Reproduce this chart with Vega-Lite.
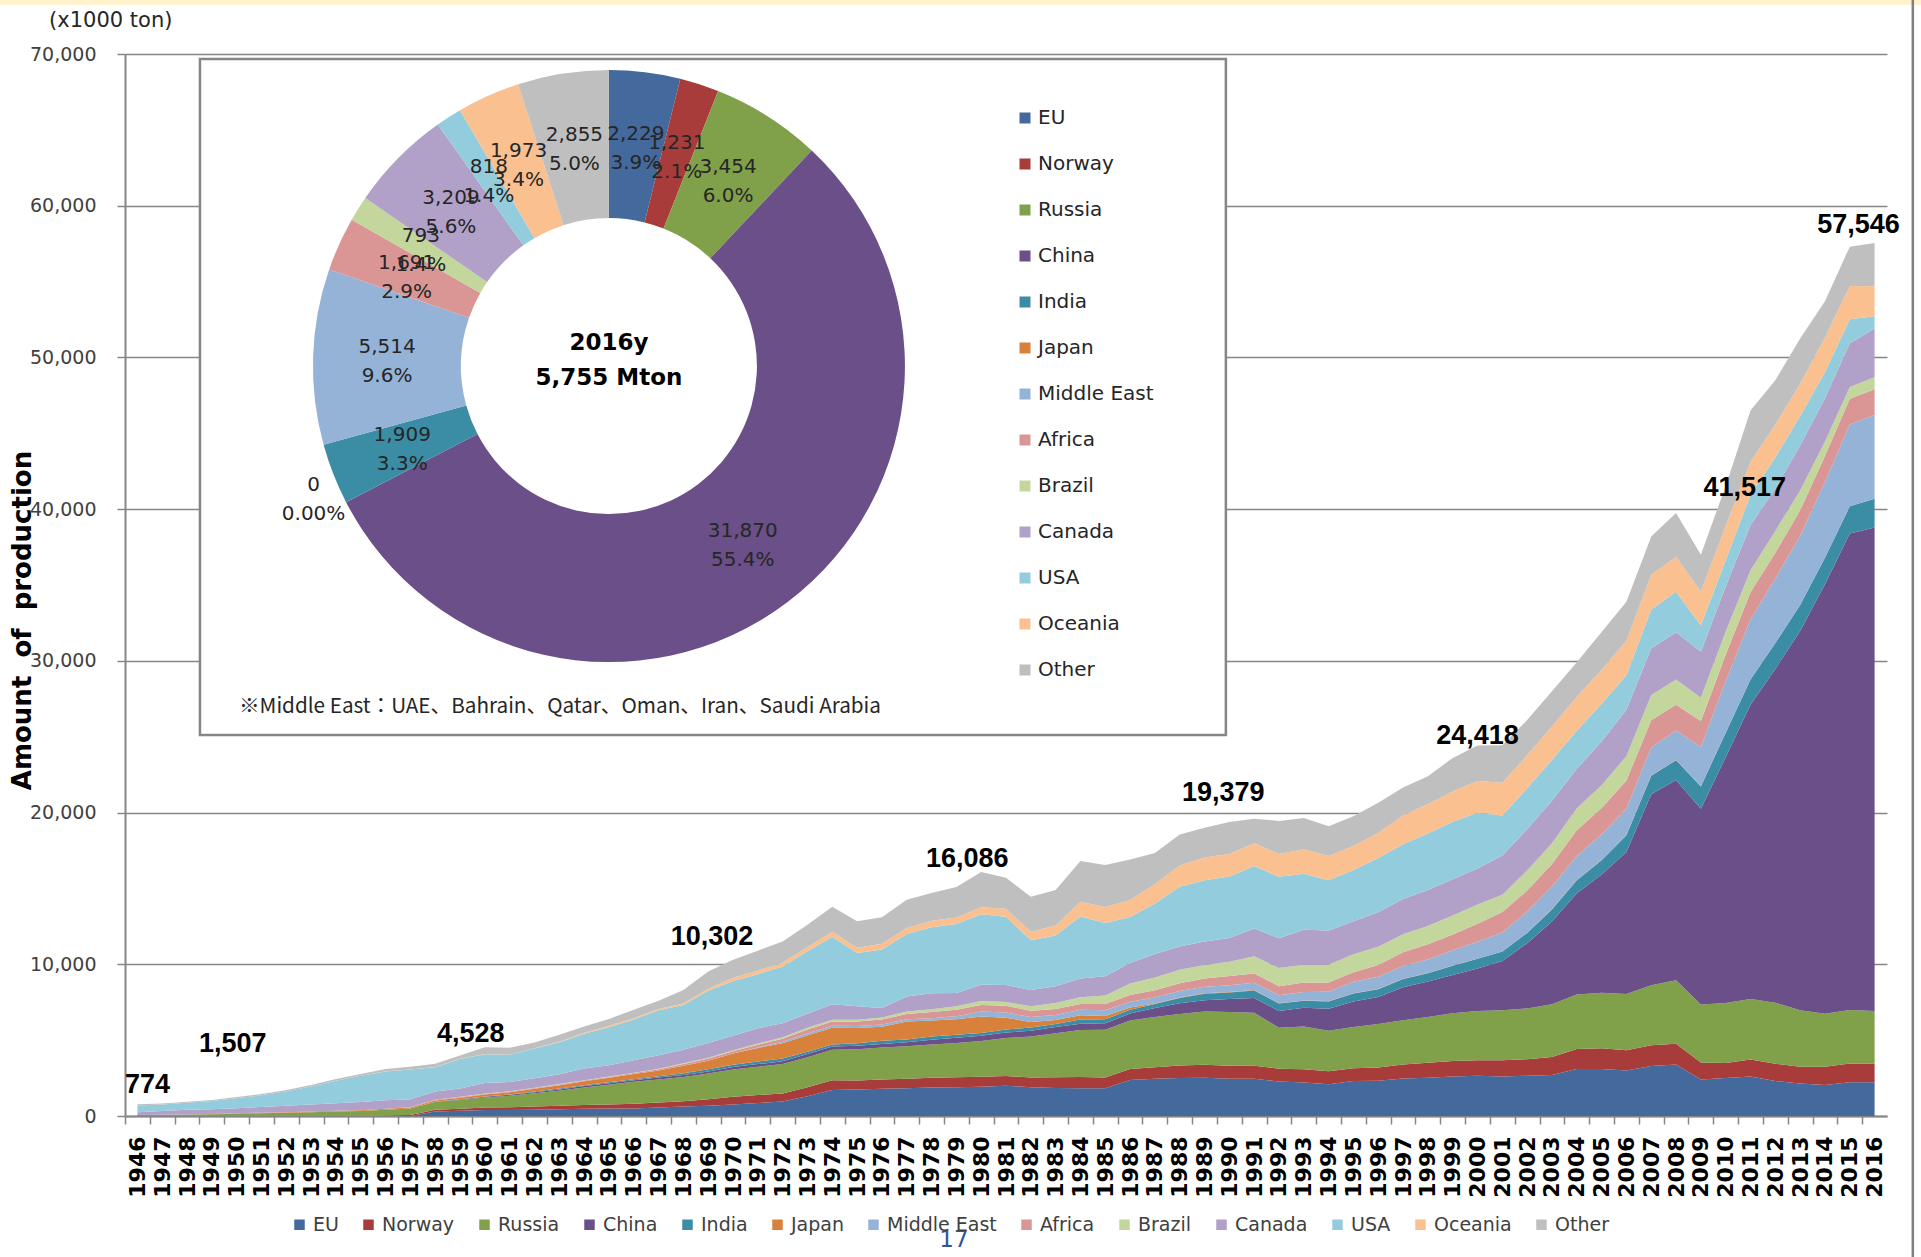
{
"$schema": "https://vega.github.io/schema/vega-lite/v6.json",
"width": 1762, "height": 1062,
"autosize": {"type": "none"},
"padding": {"left": 125, "top": 54, "right": 34, "bottom": 141},
"background": "white",
"config": {"view": {"stroke": null}, "font": "DejaVu Sans", "axisX": {"labelOverlap": false}},
"datasets": {
"prod": [
{"year":1946,"EU":0,"Norway":0,"Russia":70,"China":0,"India":0,"Japan":0,"Middle East":0,"Africa":0,"Brazil":0,"Canada":175,"USA":450,"Oceania":0,"Other":79},
{"year":1947,"EU":0,"Norway":0,"Russia":80,"China":0,"India":0,"Japan":0,"Middle East":0,"Africa":0,"Brazil":0,"Canada":250,"USA":430,"Oceania":0,"Other":70},
{"year":1948,"EU":0,"Norway":0,"Russia":100,"China":0,"India":0,"Japan":5,"Middle East":0,"Africa":0,"Brazil":0,"Canada":300,"USA":465,"Oceania":0,"Other":70},
{"year":1949,"EU":0,"Norway":0,"Russia":120,"China":0,"India":0,"Japan":15,"Middle East":0,"Africa":0,"Brazil":0,"Canada":310,"USA":540,"Oceania":0,"Other":75},
{"year":1950,"EU":0,"Norway":0,"Russia":150,"China":0,"India":0,"Japan":25,"Middle East":0,"Africa":0,"Brazil":0,"Canada":340,"USA":655,"Oceania":0,"Other":80},
{"year":1951,"EU":0,"Norway":0,"Russia":180,"China":0,"India":0,"Japan":40,"Middle East":0,"Africa":0,"Brazil":0,"Canada":380,"USA":765,"Oceania":0,"Other":85},
{"year":1952,"EU":0,"Norway":0,"Russia":210,"China":0,"India":0,"Japan":43,"Middle East":0,"Africa":0,"Brazil":0,"Canada":430,"USA":947,"Oceania":0,"Other":90},
{"year":1953,"EU":0,"Norway":0,"Russia":250,"China":0,"India":0,"Japan":45,"Middle East":0,"Africa":0,"Brazil":0,"Canada":470,"USA":1185,"Oceania":0,"Other":100},
{"year":1954,"EU":0,"Norway":0,"Russia":290,"China":0,"India":0,"Japan":52,"Middle East":0,"Africa":0,"Brazil":0,"Canada":500,"USA":1488,"Oceania":0,"Other":110},
{"year":1955,"EU":0,"Norway":0,"Russia":330,"China":0,"India":0,"Japan":57,"Middle East":0,"Africa":0,"Brazil":0,"Canada":540,"USA":1718,"Oceania":2,"Other":123},
{"year":1956,"EU":0,"Norway":30,"Russia":380,"China":0,"India":0,"Japan":66,"Middle East":0,"Africa":0,"Brazil":0,"Canada":560,"USA":1900,"Oceania":10,"Other":154},
{"year":1957,"EU":0,"Norway":60,"Russia":430,"China":5,"India":0,"Japan":68,"Middle East":0,"Africa":30,"Brazil":0,"Canada":505,"USA":1960,"Oceania":10,"Other":182},
{"year":1958,"EU":300,"Norway":120,"Russia":500,"China":10,"India":10,"Japan":80,"Middle East":0,"Africa":45,"Brazil":10,"Canada":545,"USA":1600,"Oceania":11,"Other":219},
{"year":1959,"EU":340,"Norway":140,"Russia":580,"China":30,"India":12,"Japan":104,"Middle East":0,"Africa":45,"Brazil":15,"Canada":545,"USA":1950,"Oceania":12,"Other":207},
{"year":1960,"EU":390,"Norway":171,"Russia":660,"China":50,"India":18,"Japan":133,"Middle East":0,"Africa":45,"Brazil":18,"Canada":691,"USA":1900,"Oceania":12,"Other":440},
{"year":1961,"EU":400,"Norway":180,"Russia":760,"China":60,"India":20,"Japan":150,"Middle East":0,"Africa":45,"Brazil":20,"Canada":598,"USA":1800,"Oceania":12,"Other":455},
{"year":1962,"EU":420,"Norway":200,"Russia":880,"China":70,"India":40,"Japan":190,"Middle East":0,"Africa":45,"Brazil":22,"Canada":626,"USA":1950,"Oceania":15,"Other":392},
{"year":1963,"EU":440,"Norway":230,"Russia":1000,"China":80,"India":55,"Japan":230,"Middle East":0,"Africa":45,"Brazil":25,"Canada":652,"USA":2100,"Oceania":40,"Other":453},
{"year":1964,"EU":470,"Norway":260,"Russia":1150,"China":90,"India":55,"Japan":264,"Middle East":0,"Africa":45,"Brazil":27,"Canada":765,"USA":2300,"Oceania":60,"Other":414},
{"year":1965,"EU":490,"Norway":275,"Russia":1300,"China":100,"India":62,"Japan":294,"Middle East":0,"Africa":50,"Brazil":29,"Canada":753,"USA":2500,"Oceania":88,"Other":459},
{"year":1966,"EU":500,"Norway":300,"Russia":1450,"China":110,"India":70,"Japan":338,"Middle East":0,"Africa":60,"Brazil":30,"Canada":809,"USA":2693,"Oceania":90,"Other":550},
{"year":1967,"EU":560,"Norway":330,"Russia":1520,"China":120,"India":95,"Japan":382,"Middle East":0,"Africa":80,"Brazil":35,"Canada":876,"USA":2966,"Oceania":93,"Other":543},
{"year":1968,"EU":620,"Norway":350,"Russia":1600,"China":130,"India":125,"Japan":481,"Middle East":0,"Africa":120,"Brazil":43,"Canada":894,"USA":2953,"Oceania":97,"Other":887},
{"year":1969,"EU":680,"Norway":420,"Russia":1700,"China":140,"India":135,"Japan":565,"Middle East":0,"Africa":150,"Brazil":45,"Canada":979,"USA":3441,"Oceania":126,"Other":1145},
{"year":1970,"EU":750,"Norway":523,"Russia":1800,"China":150,"India":161,"Japan":728,"Middle East":0,"Africa":164,"Brazil":56,"Canada":963,"USA":3607,"Oceania":206,"Other":1194},
{"year":1971,"EU":850,"Norway":530,"Russia":1870,"China":170,"India":179,"Japan":890,"Middle East":30,"Africa":180,"Brazil":80,"Canada":1009,"USA":3561,"Oceania":230,"Other":1321},
{"year":1972,"EU":950,"Norway":540,"Russia":1930,"China":190,"India":180,"Japan":1010,"Middle East":100,"Africa":200,"Brazil":98,"Canada":917,"USA":3740,"Oceania":250,"Other":1395},
{"year":1973,"EU":1300,"Norway":600,"Russia":1980,"China":200,"India":148,"Japan":1097,"Middle East":120,"Africa":260,"Brazil":112,"Canada":930,"USA":4109,"Oceania":280,"Other":1464},
{"year":1974,"EU":1716,"Norway":646,"Russia":2000,"China":220,"India":125,"Japan":1118,"Middle East":120,"Africa":280,"Brazil":114,"Canada":1020,"USA":4448,"Oceania":330,"Other":1663},
{"year":1975,"EU":1750,"Norway":595,"Russia":2050,"China":230,"India":167,"Japan":1013,"Middle East":130,"Africa":290,"Brazil":121,"Canada":880,"USA":3519,"Oceania":350,"Other":1735},
{"year":1976,"EU":1800,"Norway":614,"Russia":2100,"China":240,"India":211,"Japan":919,"Middle East":140,"Africa":330,"Brazil":139,"Canada":628,"USA":3857,"Oceania":380,"Other":1742},
{"year":1977,"EU":1830,"Norway":620,"Russia":2150,"China":260,"India":180,"Japan":1188,"Middle East":150,"Africa":350,"Brazil":167,"Canada":977,"USA":4118,"Oceania":400,"Other":1860},
{"year":1978,"EU":1880,"Norway":640,"Russia":2200,"China":300,"India":213,"Japan":1058,"Middle East":160,"Africa":400,"Brazil":186,"Canada":1049,"USA":4358,"Oceania":420,"Other":1836},
{"year":1979,"EU":1900,"Norway":660,"Russia":2250,"China":340,"India":213,"Japan":1010,"Middle East":200,"Africa":430,"Brazil":238,"Canada":860,"USA":4557,"Oceania":420,"Other":2022},
{"year":1980,"EU":1936,"Norway":653,"Russia":2350,"China":350,"India":185,"Japan":1092,"Middle East":320,"Africa":437,"Brazil":261,"Canada":1068,"USA":4654,"Oceania":457,"Other":2323},
{"year":1981,"EU":2000,"Norway":636,"Russia":2500,"China":360,"India":208,"Japan":771,"Middle East":340,"Africa":450,"Brazil":256,"Canada":1116,"USA":4489,"Oceania":530,"Other":2044},
{"year":1982,"EU":1900,"Norway":640,"Russia":2700,"China":380,"India":218,"Japan":351,"Middle East":330,"Africa":420,"Brazil":299,"Canada":1065,"USA":3274,"Oceania":560,"Other":2313},
{"year":1983,"EU":1850,"Norway":710,"Russia":2900,"China":400,"India":208,"Japan":256,"Middle East":330,"Africa":400,"Brazil":400,"Canada":1091,"USA":3353,"Oceania":660,"Other":2342},
{"year":1984,"EU":1830,"Norway":744,"Russia":3100,"China":410,"India":277,"Japan":287,"Middle East":350,"Africa":380,"Brazil":455,"Canada":1222,"USA":4099,"Oceania":960,"Other":2686},
{"year":1985,"EU":1830,"Norway":706,"Russia":3150,"China":420,"India":264,"Japan":227,"Middle East":370,"Africa":420,"Brazil":549,"Canada":1282,"USA":3500,"Oceania":1050,"Other":2782},
{"year":1986,"EU":2380,"Norway":720,"Russia":3200,"China":450,"India":254,"Japan":140,"Middle East":380,"Africa":450,"Brazil":757,"Canada":1355,"USA":3037,"Oceania":1120,"Other":2657},
{"year":1987,"EU":2450,"Norway":770,"Russia":3300,"China":600,"India":256,"Japan":32,"Middle East":400,"Africa":480,"Brazil":843,"Canada":1540,"USA":3343,"Oceania":1260,"Other":2066},
{"year":1988,"EU":2500,"Norway":830,"Russia":3400,"China":700,"India":353,"Japan":35,"Middle East":420,"Africa":520,"Brazil":874,"Canada":1534,"USA":3944,"Oceania":1400,"Other":2040},
{"year":1989,"EU":2520,"Norway":860,"Russia":3500,"China":750,"India":420,"Japan":35,"Middle East":430,"Africa":550,"Brazil":888,"Canada":1555,"USA":4030,"Oceania":1500,"Other":1962},
{"year":1990,"EU":2460,"Norway":845,"Russia":3550,"China":850,"India":433,"Japan":34,"Middle East":450,"Africa":612,"Brazil":931,"Canada":1567,"USA":4048,"Oceania":1495,"Other":2104},
{"year":1991,"EU":2450,"Norway":860,"Russia":3500,"China":960,"India":504,"Japan":32,"Middle East":480,"Africa":610,"Brazil":1140,"Canada":1822,"USA":4121,"Oceania":1500,"Other":1621},
{"year":1992,"EU":2280,"Norway":840,"Russia":2700,"China":1100,"India":496,"Japan":19,"Middle East":520,"Africa":600,"Brazil":1193,"Canada":1972,"USA":4042,"Oceania":1500,"Other":2188},
{"year":1993,"EU":2200,"Norway":887,"Russia":2820,"China":1220,"India":467,"Japan":18,"Middle East":560,"Africa":620,"Brazil":1172,"Canada":2309,"USA":3695,"Oceania":1620,"Other":2062},
{"year":1994,"EU":2100,"Norway":857,"Russia":2670,"China":1450,"India":478,"Japan":17,"Middle East":620,"Africa":600,"Brazil":1185,"Canada":2255,"USA":3299,"Oceania":1600,"Other":1969},
{"year":1995,"EU":2300,"Norway":847,"Russia":2724,"China":1680,"India":518,"Japan":17,"Middle East":770,"Africa":620,"Brazil":1188,"Canada":2172,"USA":3375,"Oceania":1580,"Other":1959},
{"year":1996,"EU":2330,"Norway":863,"Russia":2874,"China":1770,"India":520,"Japan":17,"Middle East":800,"Africa":780,"Brazil":1197,"Canada":2283,"USA":3577,"Oceania":1650,"Other":1989},
{"year":1997,"EU":2480,"Norway":919,"Russia":2906,"China":2180,"India":539,"Japan":17,"Middle East":850,"Africa":900,"Brazil":1189,"Canada":2327,"USA":3603,"Oceania":1900,"Other":1840},
{"year":1998,"EU":2520,"Norway":996,"Russia":3005,"China":2340,"India":541,"Japan":16,"Middle East":900,"Africa":1000,"Brazil":1208,"Canada":2374,"USA":3713,"Oceania":1950,"Other":1837},
{"year":1999,"EU":2600,"Norway":1020,"Russia":3146,"China":2530,"India":614,"Japan":11,"Middle East":1000,"Africa":1050,"Brazil":1250,"Canada":2390,"USA":3779,"Oceania":2000,"Other":2210},
{"year":2000,"EU":2650,"Norway":1026,"Russia":3245,"China":2800,"India":644,"Japan":6,"Middle East":1120,"Africa":1180,"Brazil":1271,"Canada":2373,"USA":3668,"Oceania":2100,"Other":2335},
{"year":2001,"EU":2600,"Norway":1068,"Russia":3300,"China":3250,"India":624,"Japan":6,"Middle East":1250,"Africa":1350,"Brazil":1140,"Canada":2583,"USA":2637,"Oceania":2150,"Other":2478},
{"year":2002,"EU":2650,"Norway":1096,"Russia":3347,"China":4300,"India":671,"Japan":6,"Middle East":1400,"Africa":1400,"Brazil":1318,"Canada":2709,"USA":2705,"Oceania":2170,"Other":2328},
{"year":2003,"EU":2700,"Norway":1192,"Russia":3478,"China":5450,"India":799,"Japan":6,"Middle East":1500,"Africa":1480,"Brazil":1381,"Canada":2792,"USA":2703,"Oceania":2200,"Other":2319},
{"year":2004,"EU":3100,"Norway":1322,"Russia":3593,"China":6670,"India":862,"Japan":6,"Middle East":1580,"Africa":1700,"Brazil":1457,"Canada":2592,"USA":2516,"Oceania":2240,"Other":2262},
{"year":2005,"EU":3100,"Norway":1372,"Russia":3647,"China":7800,"India":942,"Japan":6,"Middle East":1680,"Africa":1750,"Brazil":1498,"Canada":2894,"USA":2481,"Oceania":2250,"Other":2480},
{"year":2006,"EU":3000,"Norway":1331,"Russia":3718,"China":9360,"India":1104,"Japan":6,"Middle East":1750,"Africa":1850,"Brazil":1605,"Canada":3051,"USA":2284,"Oceania":2260,"Other":2581},
{"year":2007,"EU":3300,"Norway":1357,"Russia":3955,"China":12600,"India":1222,"Japan":6,"Middle East":1850,"Africa":1800,"Brazil":1655,"Canada":3083,"USA":2554,"Oceania":2300,"Other":2518},
{"year":2008,"EU":3400,"Norway":1358,"Russia":4190,"China":13200,"India":1308,"Japan":6,"Middle East":1950,"Africa":1700,"Brazil":1661,"Canada":3120,"USA":2658,"Oceania":2290,"Other":2909},
{"year":2009,"EU":2400,"Norway":1130,"Russia":3815,"China":12900,"India":1480,"Japan":5,"Middle East":2600,"Africa":1700,"Brazil":1536,"Canada":3030,"USA":1727,"Oceania":2250,"Other":2427},
{"year":2010,"EU":2500,"Norway":1000,"Russia":3947,"China":16200,"India":1610,"Japan":5,"Middle East":3400,"Africa":1740,"Brazil":1536,"Canada":2963,"USA":1726,"Oceania":2270,"Other":2620},
{"year":2011,"EU":2600,"Norway":1122,"Russia":3992,"China":19400,"India":1660,"Japan":5,"Middle East":3950,"Africa":1800,"Brazil":1440,"Canada":2984,"USA":1986,"Oceania":2190,"Other":3371},
{"year":2012,"EU":2300,"Norway":1145,"Russia":4024,"China":22000,"India":1700,"Japan":5,"Middle East":4250,"Africa":1700,"Brazil":1436,"Canada":2781,"USA":2070,"Oceania":2150,"Other":2939},
{"year":2013,"EU":2150,"Norway":1100,"Russia":3724,"China":25000,"India":1700,"Japan":5,"Middle East":4550,"Africa":1700,"Brazil":1304,"Canada":2967,"USA":1946,"Oceania":2120,"Other":2984},
{"year":2014,"EU":2050,"Norway":1195,"Russia":3500,"China":28300,"India":1750,"Japan":0,"Middle East":5000,"Africa":1700,"Brazil":962,"Canada":2858,"USA":1710,"Oceania":2270,"Other":2405},
{"year":2015,"EU":2230,"Norway":1228,"Russia":3529,"China":31400,"India":1800,"Japan":0,"Middle East":5400,"Africa":1690,"Brazil":772,"Canada":2880,"USA":1587,"Oceania":2190,"Other":2594},
{"year":2016,"EU":2229,"Norway":1231,"Russia":3454,"China":31870,"India":1909,"Japan":0,"Middle East":5514,"Africa":1691,"Brazil":793,"Canada":3209,"USA":818,"Oceania":1973,"Other":2855}
],
"pie": [
{"region":"EU","value":2229,"lbl":"2,229\n3.9%"},
{"region":"Norway","value":1231,"lbl":"1,231\n2.1%"},
{"region":"Russia","value":3454,"lbl":"3,454\n6.0%"},
{"region":"China","value":31870,"lbl":"31,870\n55.4%"},
{"region":"India","value":1909,"lbl":"1,909\n3.3%"},
{"region":"Japan","value":0,"lbl":"0\n0.00%"},
{"region":"Middle East","value":5514,"lbl":"5,514\n9.6%"},
{"region":"Africa","value":1691,"lbl":"1,691\n2.9%"},
{"region":"Brazil","value":793,"lbl":"793\n1.4%"},
{"region":"Canada","value":3209,"lbl":"3,209\n5.6%"},
{"region":"USA","value":818,"lbl":"818\n1.4%"},
{"region":"Oceania","value":1973,"lbl":"1,973\n3.4%"},
{"region":"Other","value":2855,"lbl":"2,855\n5.0%"}
],
"totals": [
{"year":1946,"total":774},{"year":1950,"total":1507},{"year":1960,"total":4528},{"year":1970,"total":10302},{"year":1980,"total":16086},{"year":1990,"total":19379},{"year":2000,"total":24418},{"year":2010,"total":41517},{"year":2016,"total":57546}
]
},
"layer": [
{
"data": {"values": [{}]},
"mark": {"type": "rect", "fill": "#FFF2CC", "stroke": null},
"encoding": {
"x": {"datum": 1940.46, "type": "quantitative"},
"x2": {"datum": 2017.9},
"y": {"datum": 73556, "type": "quantitative"},
"y2": {"datum": 73230}
}
},
{
"data": {"name": "prod"},
"transform": [
{"fold": ["EU","Norway","Russia","China","India","Japan","Middle East","Africa","Brazil","Canada","USA","Oceania","Other"], "as": ["region","value"]},
{"calculate": "indexof(['EU','Norway','Russia','China','India','Japan','Middle East','Africa','Brazil','Canada','USA','Oceania','Other'], datum.region)", "as": "ord"}
],
"mark": {"type": "area"},
"encoding": {
"x": {"field": "year", "type": "quantitative", "scale": {"domain": [1945.5, 2016.5], "nice": false, "zero": false},
 "axis": {"title": null, "values": [1946,1947,1948,1949,1950,1951,1952,1953,1954,1955,1956,1957,1958,1959,1960,1961,1962,1963,1964,1965,1966,1967,1968,1969,1970,1971,1972,1973,1974,1975,1976,1977,1978,1979,1980,1981,1982,1983,1984,1985,1986,1987,1988,1989,1990,1991,1992,1993,1994,1995,1996,1997,1998,1999,2000,2001,2002,2003,2004,2005,2006,2007,2008,2009,2010,2011,2012,2013,2014,2015,2016],
 "tickCount": 200,
 "format": "d", "labelAngle": 270, "labelAlign": "right", "labelBaseline": "middle",
 "labelFont": "DejaVu Sans", "labelFontWeight": "bold", "labelFontSize": 22, "labelColor": "#000000", "labelPadding": 12,
 "tickOffset": -12.41, "labelOffset": 12.41, "tickSize": 8, "tickColor": "#868686", "tickWidth": 1.5,
 "domainColor": "#868686", "domainWidth": 2, "grid": false, "labelOverlap": false, "labelSeparation": 0, "labelFlush": false, "labelBound": false}},
"y": {"field": "value", "type": "quantitative", "stack": "zero", "scale": {"domain": [0, 70000], "nice": false},
 "axis": {"title": "Amount\u00a0\u00a0of\u00a0\u00a0production", "values": [0,10000,20000,30000,40000,50000,60000,70000], "format": ",d",
 "labelFont": "DejaVu Sans", "labelFontSize": 19, "labelColor": "#404040", "labelPadding": 21,
 "tickSize": 8, "tickColor": "#868686", "tickWidth": 1.5, "domainColor": "#868686", "domainWidth": 2,
 "grid": true, "gridColor": "#868686", "gridWidth": 1.5,
 "titleFont": "DejaVu Sans", "titleFontSize": 26, "titleFontWeight": "bold", "titleColor": "#000000",
 "titleX": -103, "titleY": 566, "titleAngle": 270, "titleAlign": "center", "titleBaseline": "middle"}},
"color": {"field": "region", "type": "nominal",
 "scale": {"domain": ["EU","Norway","Russia","China","India","Japan","Middle East","Africa","Brazil","Canada","USA","Oceania","Other"],
  "range": ["#44699C","#A83C3A","#80A04A","#6A4F88","#3B8DA5","#D8813A","#95B3D7","#DA9694","#C3D69B","#B1A0C7","#93CDDD","#FAC090","#BFBFBF"]},
 "legend": {"orient": "none", "legendX": 165, "legendY": 1161, "direction": "horizontal", "columns": 13, "title": null, "symbolType": "square", "symbolSize": 110, "symbolStrokeWidth": 0, "symbolOpacity": 1, "labelFont": "DejaVu Sans", "labelFontSize": 19, "labelColor": "#404040", "columnPadding": 20, "labelOffset": 4}},
"order": {"field": "ord", "type": "quantitative"}
}
},
{
"data": {"name": "totals"},
"transform": [{"filter": "datum.year === 1946"}],
"mark": {"type": "text", "font": "Liberation Sans", "fontWeight": "bold", "fontSize": 27, "dx": 10, "dy": -19, "baseline": "middle", "align": "center", "color": "#000000"},
"encoding": {"x": {"field": "year", "type": "quantitative"}, "y": {"field": "total", "type": "quantitative"}, "text": {"field": "total", "type": "quantitative", "format": ","}}
},
{
"data": {"name": "totals"},
"transform": [{"filter": "datum.year === 1950"}],
"mark": {"type": "text", "font": "Liberation Sans", "fontWeight": "bold", "fontSize": 27, "dx": -4, "dy": -49, "baseline": "middle", "align": "center", "color": "#000000"},
"encoding": {"x": {"field": "year", "type": "quantitative"}, "y": {"field": "total", "type": "quantitative"}, "text": {"field": "total", "type": "quantitative", "format": ","}}
},
{
"data": {"name": "totals"},
"transform": [{"filter": "datum.year === 1960 || datum.year === 1980"}],
"mark": {"type": "text", "font": "Liberation Sans", "fontWeight": "bold", "fontSize": 27, "dx": -14, "dy": -13, "baseline": "middle", "align": "center", "color": "#000000"},
"encoding": {"x": {"field": "year", "type": "quantitative"}, "y": {"field": "total", "type": "quantitative"}, "text": {"field": "total", "type": "quantitative", "format": ","}}
},
{
"data": {"name": "totals"},
"transform": [{"filter": "datum.year === 1970"}],
"mark": {"type": "text", "font": "Liberation Sans", "fontWeight": "bold", "fontSize": 27, "dx": -21, "dy": -23, "baseline": "middle", "align": "center", "color": "#000000"},
"encoding": {"x": {"field": "year", "type": "quantitative"}, "y": {"field": "total", "type": "quantitative"}, "text": {"field": "total", "type": "quantitative", "format": ","}}
},
{
"data": {"name": "totals"},
"transform": [{"filter": "datum.year === 1990"}],
"mark": {"type": "text", "font": "Liberation Sans", "fontWeight": "bold", "fontSize": 27, "dx": -6, "dy": -29, "baseline": "middle", "align": "center", "color": "#000000"},
"encoding": {"x": {"field": "year", "type": "quantitative"}, "y": {"field": "total", "type": "quantitative"}, "text": {"field": "total", "type": "quantitative", "format": ","}}
},
{
"data": {"name": "totals"},
"transform": [{"filter": "datum.year === 2000"}],
"mark": {"type": "text", "font": "Liberation Sans", "fontWeight": "bold", "fontSize": 27, "dx": 0, "dy": -10, "baseline": "middle", "align": "center", "color": "#000000"},
"encoding": {"x": {"field": "year", "type": "quantitative"}, "y": {"field": "total", "type": "quantitative"}, "text": {"field": "total", "type": "quantitative", "format": ","}}
},
{
"data": {"name": "totals"},
"transform": [{"filter": "datum.year === 2010"}],
"mark": {"type": "text", "font": "Liberation Sans", "fontWeight": "bold", "fontSize": 27, "dx": 19, "dy": 2, "baseline": "middle", "align": "center", "color": "#000000"},
"encoding": {"x": {"field": "year", "type": "quantitative"}, "y": {"field": "total", "type": "quantitative"}, "text": {"field": "total", "type": "quantitative", "format": ","}}
},
{
"data": {"name": "totals"},
"transform": [{"filter": "datum.year === 2016"}],
"mark": {"type": "text", "font": "Liberation Sans", "fontWeight": "bold", "fontSize": 27, "dx": -16, "dy": -18, "baseline": "middle", "align": "center", "color": "#000000"},
"encoding": {"x": {"field": "year", "type": "quantitative"}, "y": {"field": "total", "type": "quantitative"}, "text": {"field": "total", "type": "quantitative", "format": ","}}
},
{
"data": {"values": [{}]},
"mark": {"type": "rect", "fill": "white", "stroke": "#868686", "strokeWidth": 2.5},
"encoding": {
"x": {"datum": 1948.52, "type": "quantitative"},
"x2": {"datum": 1989.86},
"y": {"datum": 69670, "type": "quantitative"},
"y2": {"datum": 25110}
}
},
{
"data": {"values": [{}]},
"mark": {"type": "rule", "stroke": "#7f7f7f", "strokeWidth": 2.5},
"encoding": {
"x": {"datum": 2017.54, "type": "quantitative"},
"y": {"datum": 73556, "type": "quantitative"},
"y2": {"datum": -9293}
}
},
{
"data": {"name": "pie"},
"transform": [{"calculate": "indexof(['EU','Norway','Russia','China','India','Japan','Middle East','Africa','Brazil','Canada','USA','Oceania','Other'], datum.region)", "as": "ord"}],
"mark": {"type": "arc", "innerRadius": 148, "outerRadius": 296},
"encoding": {
"theta": {"field": "value", "type": "quantitative", "stack": true},
"order": {"field": "ord", "type": "quantitative"},
"x": {"datum": 1965, "type": "quantitative"},
"y": {"datum": 49430, "type": "quantitative"},
"fill": {"field": "region", "type": "nominal", "sort": {"field": "ord", "op": "min"},
 "scale": {"range": ["#44699C","#A83C3A","#80A04A","#6A4F88","#3B8DA5","#D8813A","#95B3D7","#DA9694","#C3D69B","#B1A0C7","#93CDDD","#FAC090","#BFBFBF"]},
 "legend": {"orient": "none", "legendX": 890, "legendY": 54, "direction": "vertical", "title": null, "symbolType": "square", "symbolSize": 121, "symbolStrokeWidth": 0, "symbolOpacity": 1, "labelFont": "DejaVu Sans", "labelFontSize": 20, "labelColor": "#262626", "rowPadding": 26, "labelOffset": 3}}
}
},
{
"data": {"name": "pie"},
"transform": [{"calculate": "indexof(['EU','Norway','Russia','China','India','Japan','Middle East','Africa','Brazil','Canada','USA','Oceania','Other'], datum.region)", "as": "ord"}],
"mark": {"type": "text", "radius": 222, "dy": -12, "font": "DejaVu Sans", "fontSize": 20, "lineBreak": "\n", "lineHeight": 29, "color": "#262626", "baseline": "middle", "align": "center"},
"encoding": {
"theta": {"field": "value", "type": "quantitative", "stack": true},
"order": {"field": "ord", "type": "quantitative"},
"x": {"datum": 1965, "type": "quantitative"},
"y": {"datum": 49430, "type": "quantitative"},
"text": {"condition": {"test": "datum.region === 'Japan'", "value": ""}, "field": "lbl", "type": "nominal"}
}
},
{
"data": {"name": "pie"},
"transform": [{"calculate": "indexof(['EU','Norway','Russia','China','India','Japan','Middle East','Africa','Brazil','Canada','USA','Oceania','Other'], datum.region)", "as": "ord"}],
"mark": {"type": "text", "radius": 323, "dx": 16, "dy": 33, "font": "DejaVu Sans", "fontSize": 20, "lineBreak": "\n", "lineHeight": 29, "color": "#262626", "baseline": "middle", "align": "center"},
"encoding": {
"theta": {"field": "value", "type": "quantitative", "stack": true},
"order": {"field": "ord", "type": "quantitative"},
"x": {"datum": 1965, "type": "quantitative"},
"y": {"datum": 49430, "type": "quantitative"},
"text": {"condition": {"test": "datum.region !== 'Japan'", "value": ""}, "field": "lbl", "type": "nominal"}
}
},
{
"data": {"values": [{"t": "2016y\n5,755 Mton"}]},
"mark": {"type": "text", "font": "DejaVu Sans", "fontWeight": "bold", "fontSize": 23, "lineBreak": "\n", "lineHeight": 35, "color": "#000000", "baseline": "middle", "align": "center"},
"encoding": {
"x": {"datum": 1965, "type": "quantitative"},
"y": {"datum": 50980, "type": "quantitative"},
"text": {"field": "t", "type": "nominal"}
}
},
{
"data": {"values": [{"t": "※Middle East：UAE、Bahrain、Qatar、Oman、Iran、Saudi Arabia"}]},
"mark": {"type": "text", "font": "Noto Sans CJK JP", "fontSize": 20.7, "color": "#262626", "baseline": "middle", "align": "left"},
"encoding": {
"x": {"datum": 1950.09, "type": "quantitative"},
"y": {"datum": 26957, "type": "quantitative"},
"text": {"field": "t", "type": "nominal"}
}
},
{
"data": {"values": [{"t": "(x1000 ton)"}]},
"mark": {"type": "text", "font": "DejaVu Sans", "fontSize": 21, "color": "#262626", "baseline": "middle", "align": "left"},
"encoding": {
"x": {"datum": 1942.44, "type": "quantitative"},
"y": {"datum": 72171, "type": "quantitative"},
"text": {"field": "t", "type": "nominal"}
}
},
{
"data": {"values": [{"t": "17"}]},
"mark": {"type": "text", "font": "DejaVu Sans", "fontSize": 23, "color": "#2F5597", "baseline": "middle", "align": "center"},
"encoding": {
"x": {"datum": 1978.9, "type": "quantitative"},
"y": {"datum": -8200, "type": "quantitative"},
"text": {"field": "t", "type": "nominal"}
}
}
]
}
